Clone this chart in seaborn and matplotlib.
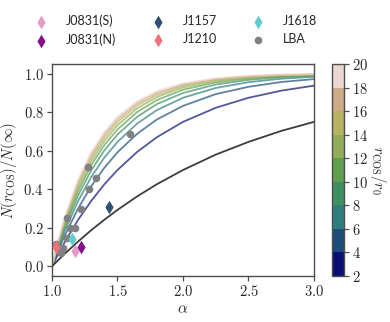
import matplotlib
matplotlib.use("Agg")
import matplotlib.pyplot as plt
import pandas as pd
import seaborn as sns
from matplotlib.cm import ScalarMappable
from matplotlib.colors import BoundaryNorm, ListedColormap
from matplotlib.ticker import FuncFormatter

# ── Data ─────────────────────────────────────────────────────────────────────
ALPHA_GRID = [1.0, 1.05, 1.1, 1.2, 1.3, 1.4, 1.5, 1.65, 1.8, 2.0, 2.25, 2.5, 2.75, 3.0]

# dark grey reference curve
REF_CURVE = [0.0, 0.034, 0.067, 0.129, 0.188, 0.242, 0.293, 0.363, 0.426, 0.500,
             0.580, 0.646, 0.703, 0.750]

# coloured curves, one per r_COS/r_0
R_VALUES = [4, 6, 8, 10, 12, 14, 16, 18, 20]
CURVE_R4 = [0.0, 0.067, 0.129, 0.242, 0.340, 0.426, 0.500, 0.594, 0.670, 0.750, 0.823, 0.875, 0.912, 0.938]
CURVE_R6 = [0.0, 0.086, 0.164, 0.301, 0.416, 0.512, 0.592, 0.688, 0.762, 0.833, 0.894, 0.932, 0.957, 0.972]
CURVE_R8 = [0.0, 0.099, 0.188, 0.340, 0.464, 0.565, 0.646, 0.741, 0.811, 0.875, 0.926, 0.956, 0.974, 0.984]
CURVE_R10 = [0.0, 0.109, 0.206, 0.369, 0.499, 0.602, 0.684, 0.776, 0.842, 0.900, 0.944, 0.968, 0.982, 0.990]
CURVE_R12 = [0.0, 0.117, 0.220, 0.392, 0.526, 0.630, 0.711, 0.801, 0.863, 0.917, 0.955, 0.976, 0.987, 0.993]
CURVE_R14 = [0.0, 0.124, 0.232, 0.410, 0.547, 0.652, 0.733, 0.820, 0.879, 0.929, 0.963, 0.981, 0.990, 0.995]
CURVE_R16 = [0.0, 0.129, 0.242, 0.426, 0.565, 0.670, 0.750, 0.835, 0.891, 0.938, 0.969, 0.984, 0.992, 0.996]
CURVE_R18 = [0.0, 0.135, 0.251, 0.439, 0.580, 0.685, 0.764, 0.847, 0.901, 0.944, 0.973, 0.987, 0.994, 0.997]
CURVE_R20 = [0.0, 0.139, 0.259, 0.451, 0.593, 0.698, 0.776, 0.857, 0.909, 0.950, 0.976, 0.989, 0.995, 0.998]
CURVES = [CURVE_R4, CURVE_R6, CURVE_R8, CURVE_R10, CURVE_R12,
          CURVE_R14, CURVE_R16, CURVE_R18, CURVE_R20]

# individual sources (diamonds)
SRC_NAMES = ["J0831(S)", "J0831(N)", "J1157", "J1210", "J1618"]
SRC_ALPHA = [1.176, 1.219, 1.438, 1.031, 1.155]
SRC_FRAC = [0.078, 0.100, 0.308, 0.100, 0.142]
SRC_COLORS = ["#e59ac6", "#86108a", "#2d4f78", "#f2707c", "#62cdcf"]

# LBA sample (grey circles)
LBA_ALPHA = [1.032, 1.056, 1.071, 1.082, 1.114, 1.117, 1.140, 1.177, 1.219, 1.279, 1.277, 1.337, 1.597]
LBA_FRAC = [0.114, 0.082, 0.071, 0.097, 0.149, 0.253, 0.198, 0.198, 0.297, 0.400, 0.518, 0.460, 0.686]

CBAR_BOUNDS = [2, 4, 6, 8, 10, 12, 14, 16, 18, 20]

# ── Style ────────────────────────────────────────────────────────────────────
sns.set_style("ticks")
plt.rcParams["font.family"] = ["Lato", "DejaVu Sans"]
plt.rcParams["mathtext.fontset"] = "cm"
EDGE = "#4d4d4d"

base = plt.get_cmap("gist_earth")
n_bins = len(CBAR_BOUNDS) - 1
bin_colors = [base((i + 0.5) / n_bins) for i in range(n_bins)]
cmap = ListedColormap(bin_colors)
norm = BoundaryNorm(CBAR_BOUNDS, n_bins)
palette = {r: bin_colors[i] for i, r in enumerate(R_VALUES)}

fig = plt.figure(figsize=(3.9, 3.22), dpi=100)
ax = fig.add_axes([0.1333, 0.143, 0.6718, 0.658])
cax = fig.add_axes([0.850, 0.143, 0.031, 0.658])

rows = []
for r, vals in zip(R_VALUES, CURVES):
    for a, v in zip(ALPHA_GRID, vals):
        rows.append({"alpha": a, "frac": v, "r": r})
df = pd.DataFrame(rows)

sns.lineplot(data=df, x="alpha", y="frac", hue="r", palette=palette,
             legend=False, lw=1.3, alpha=0.7, ax=ax)
sns.lineplot(x=ALPHA_GRID, y=REF_CURVE, color="#3c3c3c", lw=1.3, ax=ax)

for name, a, f, c in zip(SRC_NAMES, SRC_ALPHA, SRC_FRAC, SRC_COLORS):
    sns.scatterplot(x=[a], y=[f], marker="d", color=c, s=48, linewidth=0,
                    label=name, ax=ax, zorder=5)
sns.scatterplot(x=LBA_ALPHA, y=LBA_FRAC, marker="o", color="#808080", s=30,
                linewidth=0, label="LBA", ax=ax, zorder=4)

ax.set_xlim(1.0, 3.0)
ax.set_ylim(-0.05, 1.05)
ax.set_xticks([1.0, 1.5, 2.0, 2.5, 3.0])
ax.set_yticks([0.0, 0.2, 0.4, 0.6, 0.8, 1.0])
fmt = FuncFormatter(lambda v, _: f"${v:.1f}$")
ax.xaxis.set_major_formatter(fmt)
ax.yaxis.set_major_formatter(fmt)
ax.tick_params(labelsize=10.5, length=3.5, width=0.9, color=EDGE, pad=2.5)
for sp in ax.spines.values():
    sp.set_color(EDGE)
    sp.set_linewidth(1.0)
ax.set_xlabel(r"$\alpha$", fontsize=11, labelpad=2)
ax.set_ylabel(r"$N(r_{\rm COS})/N(\infty)$", fontsize=10.5, labelpad=3)

handles, labels = ax.get_legend_handles_labels()
ax.get_legend().remove()
fig.legend(handles, labels, ncol=3, loc="upper left",
           bbox_to_anchor=(0.06, 0.99), frameon=False, fontsize=9,
           handlelength=1.0, handletextpad=1.5, columnspacing=2.8,
           labelspacing=0.5)

sm = ScalarMappable(norm=norm, cmap=cmap)
cb = fig.colorbar(sm, cax=cax, ticks=CBAR_BOUNDS)
cb.ax.yaxis.set_major_formatter(FuncFormatter(lambda v, _: f"${int(v)}$"))
cb.ax.tick_params(labelsize=10.5, length=3.5, width=0.9, color=EDGE, pad=2.5)
cb.outline.set_edgecolor(EDGE)
cb.outline.set_linewidth(1.0)
cb.set_label(r"$r_{\rm COS}/r_0$", fontsize=10.5, rotation=270, labelpad=14)

fig.savefig("out.png", dpi=100)
